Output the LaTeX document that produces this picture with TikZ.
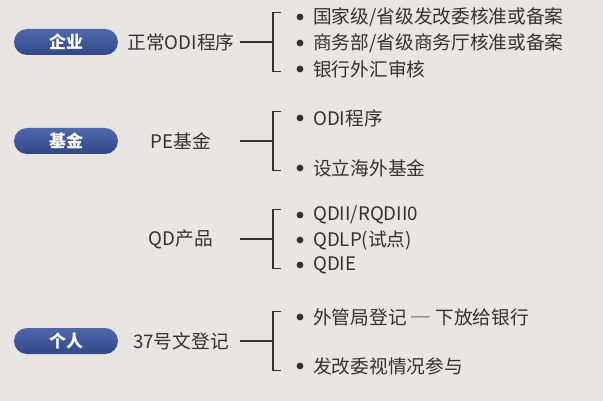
\documentclass[tikz,border=0pt]{standalone}
\usepackage{fontspec}
\newfontfamily\cjk{Noto Sans CJK SC}
\usepackage{tikz}
\usetikzlibrary{calc, positioning}
\definecolor{paper}{RGB}{232,229,226}
\definecolor{ink}{RGB}{52,50,49}
\definecolor{pilltop}{RGB}{80,104,170}
\definecolor{pillbot}{RGB}{48,72,136}

\begin{document}
\begin{tikzpicture}[x=1pt, y=-1pt,
  pill/.style={rounded corners=13pt, minimum width=104pt, minimum height=26pt, inner sep=0pt,
    top color=pilltop, bottom color=pillbot, text=white, font=\cjk\bfseries\fontsize{17}{17}\selectfont},
  route/.style={minimum width=118pt, inner sep=0pt, text=ink, font=\cjk\fontsize{18.7}{20}\selectfont},
  item/.style={anchor=west, inner sep=0pt, text=ink, font=\cjk\fontsize{18.7}{20}\selectfont},
  link/.style={draw=ink, line width=1.4pt}]
\useasboundingbox (0,0) rectangle (603,401);
\fill[paper] (0,0) rectangle (603,401);
% left side: subjects
\node[pill] (qiye) at (66,42) {企业};
\node[pill] (jijin) at (66,141) {基金};
\node[pill] (geren) at (66,341) {个人};
% routes
\node[route] (odi) at (181,42) {正常ODI程序};
\node[route] (pe) at (181,141) {PE基金};
\node[route] (qd) at (181,239) {QD产品};
\node[route] (wen) at (181,341) {37号文登记};
\coordinate (k1) at (273,42);
\coordinate (k2) at (273,141);
\coordinate (k3) at (273,239);
\coordinate (k4) at (273,341);
\draw[link] (odi.east) -- (k1);
\draw[link] (pe.east) -- (k2);
\draw[link] (qd.east) -- (k3);
\draw[link] (wen.east) -- (k4);
% brackets
\foreach \k in {k1,k2,k3,k4}
  \draw[link] ($(\k)+(8,-29.5)$) -- ++(-8,0) -- ++(0,59) -- ++(8,0);
% bullets
\fill[ink] \foreach \y in {17,43,69,118,168,215,240,265,317,366} {(300,\y) circle (3.4pt)};
% items
\node[item] (a1) at (313,17) {国家级/省级发改委核准或备案};
\node[item] (a2) at (313,43) {商务部/省级商务厅核准或备案};
\node[item] (a3) at (313,69) {银行外汇审核};
\node[item] (b1) at (313,118) {ODI程序};
\node[item] (b2) at (313,168) {设立海外基金};
\node[item] (c1) at (313,215) {QDII/RQDII0};
\node[item] (c2) at (313,240) {QDLP(试点)};
\node[item] (c3) at (313,265) {QDIE};
\node[item] (d1) at (313,317) {外管局登记\hspace{5pt}─\hspace{5pt}下放给银行};
\node[item] (d2) at (313,366) {发改委视情况参与};
\end{tikzpicture}
\end{document}
